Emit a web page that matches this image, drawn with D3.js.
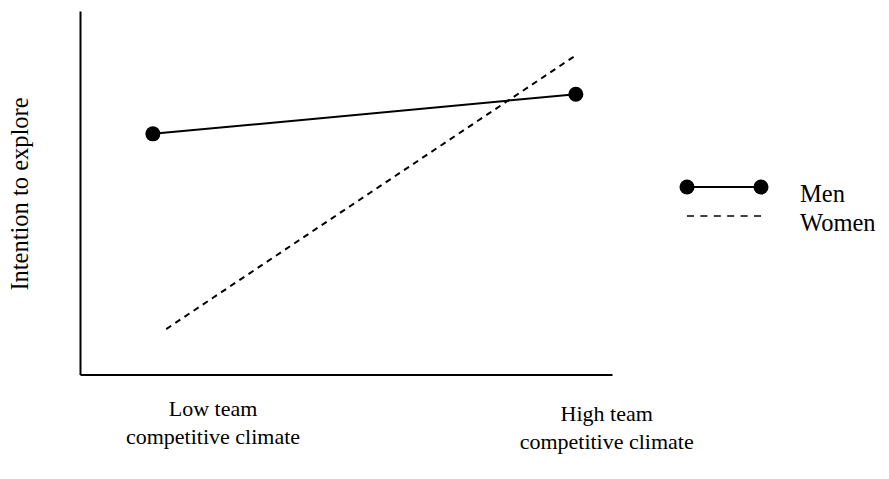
<!DOCTYPE html>
<html>
<head>
<meta charset="utf-8">
<script src="https://cdn.jsdelivr.net/npm/d3@7"></script>
<style>
  html, body { margin: 0; padding: 0; background: #fff; }
  svg { display: block; }
  text { font-family: "Liberation Serif", "Times New Roman", serif; fill: #000; }
</style>
</head>
<body>
<svg id="chart" width="889" height="479"></svg>
<script>
// ---- data ----
const seriesNames = ["Men", "Women"];
const menX = [13.7, 93.2];          // position along climate axis (0-100)
const menValues = [66.2, 77.1];     // intention to explore (0-100)
const womenX = [16.2, 93.3];
const womenValues = [12.5, 87.9];
const catLine1 = ["Low team", "High team"];
const catLine2 = ["competitive climate", "competitive climate"];
const catPos = [25, 99];
const yTitle = "Intention to explore";

// ---- layout ----
const svg = d3.select("#chart");
const x = d3.scaleLinear().domain([0, 100]).range([80, 612]);
const y = d3.scaleLinear().domain([0, 100]).range([374.5, 11]);

// axes (no ticks)
const gx = svg.append("g").attr("transform", `translate(0,${y(0)})`)
  .call(d3.axisBottom(x).ticks(0).tickSizeOuter(0));
const gy = svg.append("g").attr("transform", `translate(${x(0)},0)`)
  .call(d3.axisLeft(y).ticks(0).tickSizeOuter(0));
[gx, gy].forEach(g => g.select(".domain").attr("stroke", "#000").attr("stroke-width", 2));

// women dashed line
const line = d3.line().x(d => x(d[0])).y(d => y(d[1]));
svg.append("path")
  .datum(d3.zip(womenX, womenValues))
  .attr("d", line)
  .attr("fill", "none").attr("stroke", "#000")
  .attr("stroke-width", 2).attr("stroke-dasharray", "6,5");

// men solid line with points
const menData = d3.zip(menX, menValues);
svg.append("path")
  .datum(menData)
  .attr("d", line)
  .attr("fill", "none").attr("stroke", "#000").attr("stroke-width", 2);
svg.selectAll("circle.men").data(menData).join("circle")
  .attr("class", "men")
  .attr("cx", d => x(d[0])).attr("cy", d => y(d[1])).attr("r", 7.5)
  .attr("fill", "#000");

// y title
svg.append("text")
  .attr("transform", "translate(28,194) rotate(-90)")
  .attr("text-anchor", "middle")
  .attr("font-size", 24.5)
  .text(yTitle);

// category labels
const cats = svg.selectAll("g.cat").data(catPos).join("g").attr("class", "cat");
cats.append("text")
  .attr("x", d => x(d)).attr("y", (d, i) => 416 + i * 5)
  .attr("text-anchor", "middle").attr("font-size", 22)
  .text((d, i) => catLine1[i]);
cats.append("text")
  .attr("x", d => x(d)).attr("y", (d, i) => 444 + i * 5)
  .attr("text-anchor", "middle").attr("font-size", 22)
  .text((d, i) => catLine2[i]);

// legend
const lg = svg.append("g");
const lx0 = 687, lx1 = 761;
lg.append("line").attr("x1", lx0).attr("x2", lx1).attr("y1", 187).attr("y2", 187)
  .attr("stroke", "#000").attr("stroke-width", 2);
lg.selectAll("circle").data([lx0, lx1]).join("circle")
  .attr("cx", d => d).attr("cy", 187).attr("r", 7.5).attr("fill", "#000");
lg.append("line").attr("x1", lx0).attr("x2", lx1).attr("y1", 216).attr("y2", 216)
  .attr("stroke", "#000").attr("stroke-width", 1.5).attr("stroke-dasharray", "7,6.4");
lg.selectAll("text").data(seriesNames).join("text")
  .attr("x", 800).attr("y", (d, i) => 202 + i * 29)
  .attr("font-size", 24.5)
  .text(d => d);
</script>
</body>
</html>
